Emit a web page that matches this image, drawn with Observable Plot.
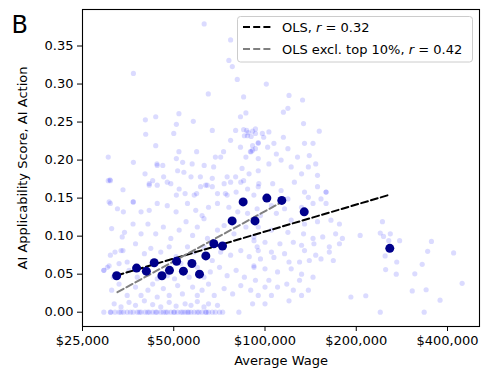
<!DOCTYPE html>
<html><head><meta charset="utf-8">
<script src="https://cdn.jsdelivr.net/npm/d3@7"></script>
<script src="https://cdn.jsdelivr.net/npm/@observablehq/plot@0.6"></script>
<style>
body{margin:0;background:#fff;font-family:"DejaVu Sans",sans-serif;}
#wrap{position:relative;width:489px;height:377px;}
</style></head><body><div id="wrap"></div>
<script>
// Tick values
const xTicks = [25000, 50000, 100000, 200000, 400000];
const yTicks = [0, 0.05, 0.10, 0.15, 0.20, 0.25, 0.30, 0.35];

// Individual occupations: [average wage in $k, AI applicability score]
const scatter = [
 [63,0.379],[77,0.358],[36.8,0.314],[76,0.331],[78,0.323],[81,0.306],[65,0.287],[85,0.283],[86.5,0.262],[83,0.257],
 [40.3,0.253],[43.6,0.257],[52,0.261],[51,0.247],[58,0.251],[40.4,0.234],[50,0.235],[67,0.239],[43.6,0.219],[77,0.226],[80,0.239],
 [85,0.240],[87,0.239],[91,0.238],[88,0.236],[93,0.235],[90,0.231],[87.5,0.232],[85.5,0.232],
 [83,0.217],[91,0.219],[93,0.215],[89.5,0.211],[95,0.223],
 [36.8,0.197],[30.4,0.204],[30.8,0.174],[34,0.161],
 [40.2,0.182],[41.5,0.167],[42.6,0.173],[44.1,0.193],[46,0.193],[46.3,0.178],[48.9,0.169],[51,0.154],[51.5,0.186],[52,0.211],
 [53.5,0.197],[54,0.184],[57,0.178],[57.5,0.195],[59.5,0.211],[59.5,0.156],[61.2,0.178],[63,0.193],[64.5,0.167],[67,0.176],
 [67.7,0.191],[68.6,0.204],[71.4,0.204],[73,0.211],[74,0.156],[75,0.178],[77,0.171],[80,0.178],[84,0.189],[85,0.173],
 [86.5,0.204],[88.6,0.182],[91,0.213],[95,0.186],[51,0.202],[44,0.195],
 [101,0.300],[120,0.285],[133,0.279],[115,0.263],[119,0.268],[134,0.248],[151,0.238],[93,0.241],[98,0.235],[103,0.237],
 [99,0.230],[107,0.222],[115,0.230],[95,0.222],[102,0.217],[109,0.208],[119,0.215],[128,0.204],[135,0.222],[140,0.206],
 [144,0.222],[147,0.195],[90,0.211],[95,0.202],[103,0.195],[113,0.200],[122,0.191],[132,0.182],[139,0.191],[149,0.180],[159,0.158],
 [30.9,0.173],[41.5,0.169],[44.1,0.167],[47.6,0.171],[52.1,0.162],[54.5,0.156],[58.4,0.154],[61.3,0.165],[63.7,0.167],[67,0.165],
 [69.7,0.156],[73.3,0.169],[75,0.154],[80.3,0.158],[83.2,0.171],[87.6,0.162],[91.9,0.154],[95.4,0.169],
 [30.9,0.143],[34.1,0.132],[36.7,0.145],[39,0.132],[41.5,0.134],[44.1,0.143],[47.6,0.140],[50.9,0.132],[55.5,0.143],[59.1,0.134],
 [62,0.127],[65.1,0.138],[69.7,0.143],[76,0.138],[81.3,0.132],[87.6,0.130],[94.2,0.136],
 [31.2,0.110],[33.8,0.099],[36.7,0.116],[39,0.103],[41.1,0.116],[43.6,0.103],[46.2,0.112],[48.9,0.097],[52.1,0.108],[54.9,0.119],
 [57.7,0.101],[59.8,0.112],[62.9,0.123],[64.6,0.097],[69.7,0.108],[73.3,0.114],[79,0.103],[86.5,0.112],[91.9,0.099],
 [30.9,0.075],[33.5,0.081],[35.1,0.066],[37.4,0.090],[40,0.077],[42,0.084],[45.3,0.079],[48.3,0.086],[50.9,0.073],[55.5,0.086],
 [58.4,0.079],[62.9,0.086],[67,0.068],[71.4,0.079],[77,0.075],[83.2,0.081],[88.7,0.073],[94.2,0.086],
 [29.4,0.055],[30.6,0.061],[33,0.064],[35.6,0.055],[37.9,0.046],[41.1,0.050],[44.1,0.044],[47.6,0.048],[50.3,0.044],[52.8,0.064],
 [56.2,0.046],[59.8,0.059],[62.9,0.046],[66,0.053],[70.8,0.059],[75,0.048],[80.3,0.055],[85.5,0.046],[91.9,0.061],
 [31.2,0.029],[33,0.037],[35.1,0.022],[37.4,0.033],[39,0.022],[41.1,0.029],[42.6,0.037],[44.1,0.020],[46.2,0.031],[48.3,0.022],
 [51.5,0.035],[53.4,0.024],[57.7,0.033],[59.8,0.022],[62,0.029],[65.1,0.037],[68,0.022],[73.3,0.031],[78.2,0.024],[83.2,0.035],[89.7,0.029],
 [31.8,0.011],[33.5,0.007],[35.6,0.013],[37.4,0.009],[40,0.015],[42.6,0.010],[45.3,0.007],[48.3,0.013],[50.9,0.008],[54.5,0.011],
 [57,0.009],[59.8,0.014],[62.9,0.007],[65.1,0.011],[69.7,0.009],
 [29.4,0],[30.9,0],[32,0],[33,0],[34.1,0],[35.1,0],[36.7,0],[37.9,0],[39,0],[40.2,0],[41.5,0],[42.6,0],[43.6,0],[45.3,0],[46.2,0],
 [47.6,0],[48.9,0],[50.3,0],[51.5,0],[52.8,0],[54.5,0],[55.5,0],[57,0],[58.4,0],[59.8,0],[62,0],[63.7,0],[65.1,0],[67,0],[68.6,0],[70.8,0],
 [31,0],[33.5,0],[36,0],[38.5,0],[41,0],[44,0],[47,0],[50,0],[53.5,0],[56,0],[60.5,0],[64,0],[72.5,0],[82,0],
 [30.4,0.173],[30.6,0.145],[32.6,0.136],[36.8,0.145],[29.4,0.055],[30.2,0.059],[31.6,0.046],[32,0.079],[34,0.081],[34.4,0.105],
 [95,0.165],[106,0.169],[113,0.160],[125,0.171],[135,0.158],[149,0.165],[159,0.158],[119,0.149],[139,0.151],[153,0.149],
 [105,0.140],[116,0.136],[132,0.138],[144,0.143],[159,0.143],[96.6,0.127],[109,0.130],[122,0.121],[135,0.116],[149,0.119],
 [165,0.121],[176,0.116],[95,0.112],[105,0.108],[119,0.105],[134,0.103],[144,0.097],[155,0.099],[171,0.103],[180,0.097],
 [92,0.094],[100,0.092],[112,0.090],[124,0.092],[132,0.088],[145,0.090],[163,0.086],[176,0.090],[95,0.081],[105,0.079],
 [116,0.077],[135,0.081],[147,0.075],[163,0.079],[96.6,0.070],[107,0.072],[120,0.066],[130,0.066],[140,0.068],[153,0.070],
 [168,0.068],[92,0.059],[100,0.057],[110,0.053],[122,0.057],[132,0.050],[144,0.046],[93,0.042],[103,0.042],[118,0.037],
 [130,0.042],[100,0.033],[110,0.033],[124,0.029],[139,0.029],[95,0.022],[105,0.022],[120,0.015],[132,0.022],[100,0.011],[91,0.011],
 [244,0.119],[206,0.101],[240,0.104],[246,0.0996],[259,0.103],[256,0.094],[278,0.094],[354,0.093],[344,0.080],[419,0.078],
 [249,0.074],[272,0.066],[330,0.063],[250,0.056],[271,0.050],[312,0.0505],[447,0.038],[192,0.020],[215,0.0216],[306,0.028],
 [340,0.0295],[378,0.0158],[240,0],[335,0]
];

// Binned means: average wage ($k) and mean score
const meanWage = [32.4,37.7,40.6,43.1,45.7,48.4,51.1,53.8,57.4,60.8,63.8,67.8,72.4,77.9,84.7,92.7,101.4,113.6,134.7,258];
const meanScore = [0.048,0.058,0.054,0.065,0.048,0.055,0.067,0.054,0.064,0.050,0.074,0.090,0.087,0.120,0.145,0.120,0.150,0.147,0.132,0.084];

// Fitted lines (end points): wage ($k), score
const olsWage = [32.4, 258];
const olsScore = [0.0483, 0.1545];
const exclWage = [32.6, 115];
const exclScore = [0.0263, 0.146];

const legendLabels = [["OLS, ", "r", " = 0.32"], ["OLS excl. top 10%, ", "r", " = 0.42"]];

const pts = scatter.map(([w, s]) => ({wage: w * 1000, score: s}));
const means = meanWage.map((w, i) => ({wage: w * 1000, score: meanScore[i]}));
const ols = olsWage.map((w, i) => ({wage: w * 1000, score: olsScore[i]}));
const excl = exclWage.map((w, i) => ({wage: w * 1000, score: exclScore[i]}));

const chart = Plot.plot({
  width: 489, height: 377,
  marginLeft: 82, marginRight: 10, marginTop: 9, marginBottom: 51,
  style: {fontFamily: "DejaVu Sans, sans-serif", fontSize: "13px", color: "black", background: "white", overflow: "visible"},
  x: {type: "log", domain: [25000, 510000]},
  y: {domain: [-0.0188, 0.398]},
  marks: [
    Plot.dot(pts, {x: "wage", y: "score", r: 2.6, fill: "blue", fillOpacity: 0.14, stroke: null}),
    Plot.line(ols, {x: "wage", y: "score", stroke: "black", strokeWidth: 2, strokeDasharray: "7,3.2"}),
    Plot.line(excl, {x: "wage", y: "score", stroke: "gray", strokeWidth: 2, strokeDasharray: "7,3.2"}),
    Plot.dot(means, {x: "wage", y: "score", r: 4.5, fill: "#00008b", stroke: null}),
    Plot.frame({stroke: "black", strokeWidth: 1.1}),
    Plot.axisX({ticks: xTicks, tickFormat: d3.format("$,.0f"), tickSize: 5, tickPadding: 4, label: null, fontSize: 13}),
    Plot.axisY({ticks: yTicks, tickFormat: d3.format(".2f"), tickSize: 5, tickPadding: 4, label: null, fontSize: 13}),
    Plot.text(["Average Wage"], {frameAnchor: "bottom", dy: 34, textAnchor: "middle", lineAnchor: "middle", fontSize: 13}),
    Plot.text(["AI Applicability Score, AI Action"], {frameAnchor: "left", dx: -60, rotate: -90, textAnchor: "middle", lineAnchor: "middle", fontSize: 13}),
    Plot.text(["B"], {frameAnchor: "top-left", dx: -71, dy: 23, textAnchor: "start", lineAnchor: "bottom", fontSize: 24})
  ]
});
document.getElementById("wrap").appendChild(chart);

// Legend inside the plot, top right
const svg = d3.select(chart);
const g = svg.append("g").attr("font-family", "DejaVu Sans, sans-serif").attr("font-size", 13).attr("text-anchor", "start");
g.append("rect").attr("x", 237.5).attr("y", 16.5).attr("width", 235).attr("height", 45.5).attr("rx", 3)
  .attr("fill", "white").attr("fill-opacity", 0.85).attr("stroke", "#cccccc");
const colors = ["black", "gray"];
legendLabels.forEach((lab, i) => {
  const cy = 27 + i * 22;
  g.append("line").attr("x1", 243).attr("x2", 272).attr("y1", cy).attr("y2", cy)
    .attr("stroke", colors[i]).attr("stroke-width", 2).attr("stroke-dasharray", "7,3.2");
  const t = g.append("text").attr("x", 282).attr("y", cy).attr("dy", "0.35em").attr("fill", "black").attr("text-anchor", "start");
  t.append("tspan").text(lab[0]);
  t.append("tspan").attr("font-style", "italic").text(lab[1]);
  t.append("tspan").text(lab[2]);
});
</script></body></html>
